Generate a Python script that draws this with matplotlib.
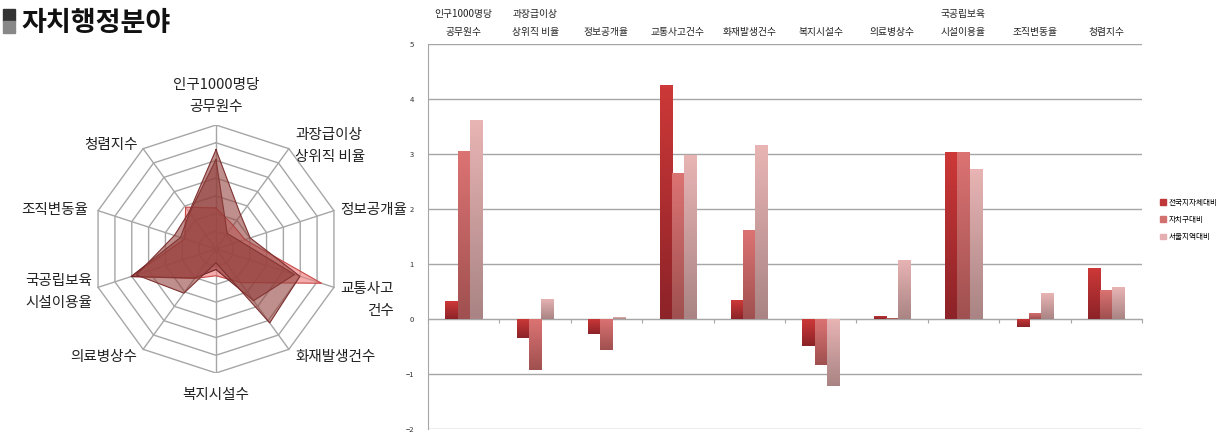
import numpy as np
import matplotlib
matplotlib.use('Agg')
import matplotlib.pyplot as plt
from matplotlib.colors import LinearSegmentedColormap
import matplotlib.transforms as mtransforms

plt.rcParams['font.family'] = ['Noto Sans CJK KR', 'DejaVu Sans']

title = '자치행정분야'
cats = ['인구1000명당\n공무원수', '과장급이상\n상위직 비율', '정보공개율', '교통사고건수', '화재발생건수',
        '복지시설수', '의료병상수', '국공립보육\n시설이용율', '조직변동율', '청렴지수']
radar_cats = ['인구1000명당\n공무원수', '과장급이상\n상위직 비율', '정보공개율', '교통사고\n건수', '화재발생건수',
              '복지시설수', '의료병상수', '국공립보육\n시설이용율', '조직변동율', '청렴지수']
series_names = ['전국지자체대비', '자치구대비', '서울지역대비']
nation = [0.32, -0.35, -0.28, 4.26, 0.34, -0.49, 0.06, 3.03, -0.15, 0.92]
district = [3.05, -0.92, -0.57, 2.66, 1.61, -0.84, 0.02, 3.04, 0.11, 0.53]
seoul = [3.61, 0.37, 0.03, 2.98, 3.16, -1.22, 1.08, 2.73, 0.47, 0.58]
yticks = [-2, -1, 0, 1, 2, 3, 4, 5]

W, H = 1225, 434
fig = plt.figure(figsize=(W / 100, H / 100), dpi=100)

def fx(x):
    return x / W

def fy(y):
    return 1 - y / H

# title with little two-tone square
fig.patches.append(plt.Rectangle((fx(3), fy(21)), fx(12), 12 / H, color='#333333', transform=fig.transFigure))
fig.patches.append(plt.Rectangle((fx(3), fy(33)), fx(12), 12 / H, color='#888888', transform=fig.transFigure))
fig.text(fx(21), fy(23), title, fontsize=19.5, fontweight='bold', va='center', ha='left', color='#111111')

# ---------------- bar chart ----------------
ax = fig.add_axes([fx(428), fy(429), fx(1142) - fx(428), (429 - 44) / H])
data = [nation, district, seoul]
top_cols = ['#CD3838', '#DC7373', '#E8B4B4']
bot_cols = ['#8C2328', '#A05050', '#AA8484']
leg_cols = ['#C0373A', '#D27070', '#E5AEB0']
x = np.arange(len(cats))
bw = 0.17
grad = np.linspace(1, 0, 64).reshape(-1, 1)
for k, vals in enumerate(data):
    bars = ax.bar(x + (k - 1) * bw, vals, bw, color=leg_cols[k], label=series_names[k], zorder=3)
    cmap = LinearSegmentedColormap.from_list('g%d' % k, [bot_cols[k], top_cols[k]])
    for b in bars:
        bx, by = b.get_x(), b.get_y()
        bwid, bh = b.get_width(), b.get_height()
        y0, y1 = min(by, by + bh), max(by, by + bh)
        im = ax.imshow(grad, extent=[bx, bx + bwid, y0, y1], cmap=cmap, aspect='auto', zorder=4)
        im.set_clip_path(b)
ax.set_xlim(-0.5, len(cats) - 0.5)
ax.set_ylim(-2, 5)
ax.set_yticks(yticks)
ax.yaxis.grid(True, color='#A6A6A6', lw=1)
ax.set_axisbelow(True)
ax.tick_params(axis='y', labelsize=5.5, length=0, pad=10, colors='#333333')
ax.spines['left'].set_color('#A6A6A6')
ax.spines['top'].set_visible(False)
ax.spines['right'].set_visible(False)
ax.spines['bottom'].set_position(('data', 0))
ax.spines['bottom'].set_color('#A6A6A6')
ax.set_xticks(np.arange(len(cats) + 1) - 0.5)
ax.set_xticklabels([])
ax.tick_params(axis='x', length=3, direction='out', color='#A6A6A6')
trans = mtransforms.blended_transform_factory(ax.transData, ax.transAxes)
for i, c in enumerate(cats):
    ax.text(i, 1.018, c, transform=trans, ha='center', va='bottom', fontsize=7, linespacing=1.95, color='#222222')

handles = [plt.Rectangle((0, 0), 1, 1, color=c) for c in leg_cols]
fig.legend(handles, series_names, loc='center left', bbox_to_anchor=(fx(1153), fy(220)), frameon=False,
           fontsize=5.5, handlelength=0.8, handleheight=0.8, handletextpad=0.3, labelspacing=1.2)

# ---------------- radar chart ----------------
rad = fig.add_axes([fx(216 - 124), fy(249 + 124), 248 / W, 248 / H])
rad.set_aspect('equal')
rad.axis('off')
n = len(radar_cats)
ang = np.arange(n) * 2 * np.pi / n
rmin, rmax = -2, 5
for lvl in range(rmin + 1, rmax + 1):
    rr = lvl - rmin
    xs = np.append(rr * np.sin(ang), 0)
    ys = np.append(rr * np.cos(ang), 0)
    xs[-1], ys[-1] = xs[0], ys[0]
    rad.plot(xs, ys, color='#A6A6A6', lw=1, zorder=1)
for a in ang:
    rad.plot([0, (rmax - rmin) * np.sin(a)], [0, (rmax - rmin) * np.cos(a)], color='#A6A6A6', lw=1, zorder=1)
rad.plot(0, 0, 'o', color='#999999', ms=3, zorder=1)

fills = ['#EE7F7F', '#8A2E2E', '#94443F']
edges = ['#C84848', '#6E2222', '#7E3030']
alphas = [0.65, 0.6, 0.6]
for k, vals in enumerate(data):
    r = np.array(vals) - rmin
    xs = np.append(r * np.sin(ang), r[0] * np.sin(ang[0]))
    ys = np.append(r * np.cos(ang), r[0] * np.cos(ang[0]))
    rad.fill(xs, ys, color=fills[k], alpha=alphas[k], zorder=2 + k, lw=0)
    rad.plot(xs, ys, color=edges[k], lw=0.8, zorder=2 + k)
lim = rmax - rmin
rad.set_xlim(-lim, lim)
rad.set_ylim(-lim, lim)

# radar labels placed around the frame
label_pos = [(216, 96, 'center'), (295, 146, 'left'), (340, 210, 'left'), (394, 300, 'right'),
             (295, 357, 'left'), (216, 395, 'center'), (137, 357, 'right'), (25, 292, 'left'),
             (88, 210, 'right'), (138, 145, 'right')]
for (px, py, ha), lab in zip(label_pos, radar_cats):
    fig.text(fx(px), fy(py), lab, ha=ha, va='center', fontsize=10.5, linespacing=1.75,
             multialignment=ha, color='#222222')

fig.savefig('out.png', dpi=100)
